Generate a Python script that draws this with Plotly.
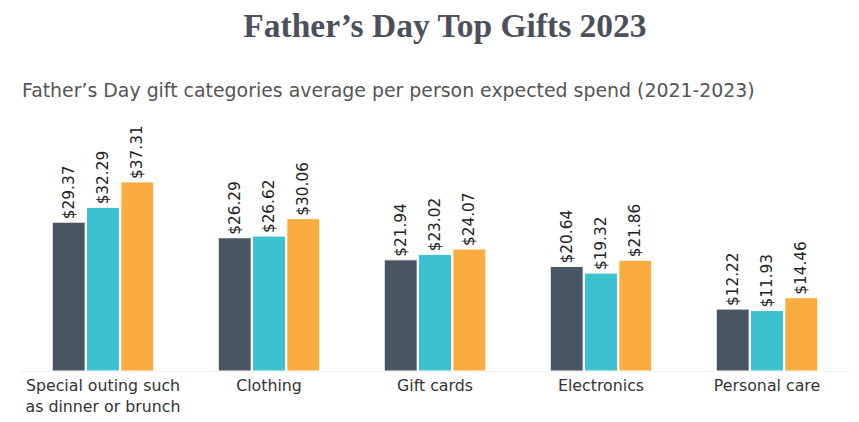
import plotly.graph_objects as go

categories = ["Special outing such<br>as dinner or brunch", "Clothing", "Gift cards", "Electronics", "Personal care"]
years = ["2021", "2022", "2023"]
spend_2021 = [29.37, 26.29, 21.94, 20.64, 12.22]
spend_2022 = [32.29, 26.62, 23.02, 19.32, 11.93]
spend_2023 = [37.31, 30.06, 24.07, 21.86, 14.46]
colors = ["#4a5563", "#3cc1ce", "#fbac3f"]

SANS = "DejaVu Sans, Open Sans, sans-serif"

fig = go.Figure()
for name, vals, col in zip(years, [spend_2021, spend_2022, spend_2023], colors):
    fig.add_trace(go.Bar(
        x=categories, y=vals, name=name,
        marker=dict(color=col, line=dict(color="white", width=1)),
        text=[f"${v:.2f}" for v in vals],
        textposition="outside", textangle=-90, constraintext="none",
        textfont=dict(family=SANS, size=15.3, color="#222222"),
        cliponaxis=False,
    ))

fig.update_layout(
    width=851, height=414,
    barmode="group", bargap=0.38, bargroupgap=0.04,
    showlegend=False,
    paper_bgcolor="white", plot_bgcolor="white",
    margin=dict(l=12, r=9, t=102, b=51, autoexpand=False),
    title=dict(text="<b>Father’s Day Top Gifts 2023</b>", x=0.5135, xanchor="center", y=0.959, yanchor="middle",
               font=dict(family="Liberation Serif, DejaVu Serif, serif", size=33.5, color="#4b505b")),
    xaxis=dict(range=[-0.5, 4.5], showgrid=False, zeroline=False, showline=True, linecolor="#f2f2f2",
               automargin=False, ticks="", ticklen=0,
               tickfont=dict(family=SANS, size=15.8, color="#333333")),
    yaxis=dict(range=[0, 51.5], visible=False),
    annotations=[dict(text="Father’s Day gift categories average per person expected spend (2021-2023)",
                      xref="paper", yref="paper", x=0.0, y=1.0, yshift=20, xanchor="left", yanchor="middle",
                      showarrow=False,
                      font=dict(family=SANS, size=18.9, color="#555555"))],
)

fig.write_html("out.html")
